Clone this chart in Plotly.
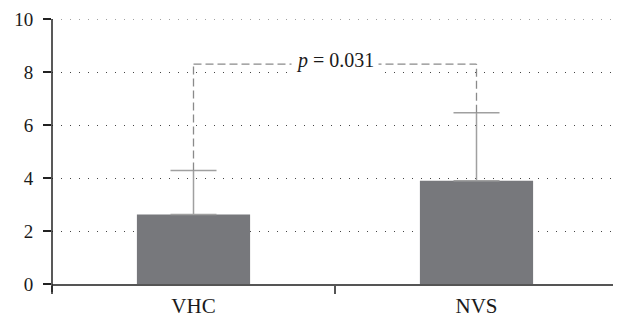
import plotly.graph_objects as go

categories = ["VHC", "NVS"]
means = [2.62, 3.90]
sd_upper = [1.66, 2.56]
bracket_y = 8.3
p_label = "<i>p</i> = 0.031"
y_ticks = [0, 2, 4, 6, 8, 10]

FONT = "Liberation Serif"
BAR = "#77787c"
ERR = "#a0a0a0"
AX = "#555555"

fig = go.Figure()
fig.add_trace(go.Bar(
    x=categories, y=means, width=0.4,
    marker=dict(color=BAR, line=dict(width=0)),
    error_y=dict(type="data", array=sd_upper, arrayminus=[0, 0], symmetric=False,
                 color=ERR, thickness=1.5, width=23),
    showlegend=False,
))

tops = [m + s for m, s in zip(means, sd_upper)]
dash_style = dict(color="#8a8a8a", width=1.3, dash="8px,4px")
for c, t in zip(categories, tops):
    fig.add_shape(type="line", xref="x", yref="y", x0=c, x1=c, y0=t, y1=bracket_y,
                  line=dash_style, layer="above")
fig.add_shape(type="line", xref="x", yref="y", x0=categories[0], x1=categories[1],
              y0=bracket_y, y1=bracket_y, line=dash_style, layer="above")
fig.add_annotation(x=0.5, y=bracket_y, xref="x", yref="y", text=p_label, showarrow=False,
                   font=dict(family=FONT, size=20, color="#1a1a1a"), bgcolor="white",
                   borderpad=4, yshift=4)
# top dotted grid line at max tick
fig.add_shape(type="line", xref="paper", yref="y", x0=0, x1=1, y0=y_ticks[-1], y1=y_ticks[-1],
              line=dict(color="#444", width=1, dash="1px,8px"), layer="below")
# y-axis line extension below zero
fig.add_shape(type="line", xref="paper", yref="paper", x0=0, x1=0, y0=-0.03, y1=1,
              line=dict(color="#222", width=1.5))

fig.update_layout(
    width=613, height=313,
    margin=dict(l=44, r=3, t=11, b=37, autoexpand=False),
    plot_bgcolor="white", paper_bgcolor="white",
    font=dict(family=FONT, size=19, color="#1a1a1a"),
    bargap=0.6,
)
fig.update_xaxes(
    type="category", range=[-0.5, 1.5], tickson="boundaries", automargin=False,
    ticks="outside", ticklen=8, tickcolor=AX, tickwidth=1.5,
    showline=True, linecolor=AX, linewidth=1.5, showgrid=False, ticklabelstandoff=2,
    tickfont=dict(family=FONT, size=21, color="#1a1a1a"),
)
fig.update_yaxes(
    range=[0, 10], tickvals=y_ticks, ticks="outside", ticklen=8, tickcolor="#222",
    tickwidth=1.5, showline=False, showgrid=True, gridcolor="#444", gridwidth=1,
    griddash="1px,8px", zeroline=False, automargin=False, ticklabelstandoff=6,
    ticklabeloverflow="allow",
    tickfont=dict(family=FONT, size=19, color="#1a1a1a"),
)

fig.write_html("out.html")
